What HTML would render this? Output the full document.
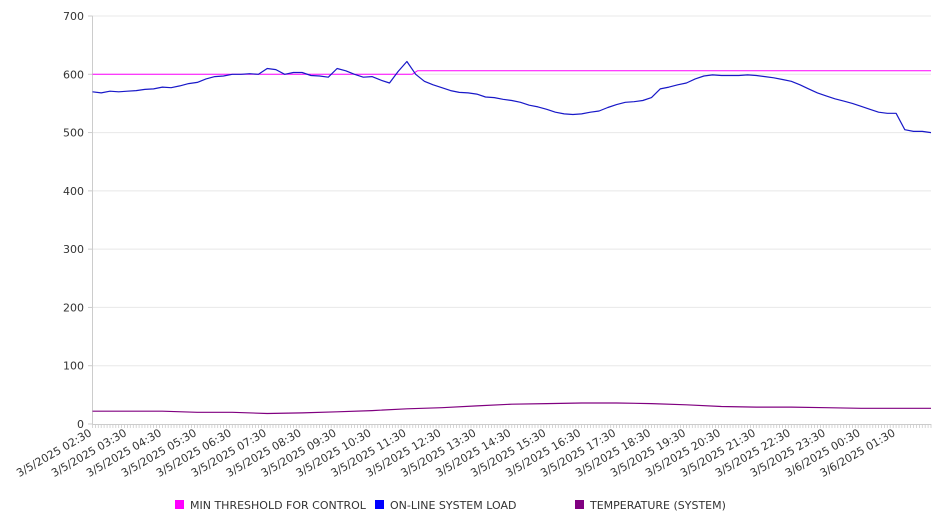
<!DOCTYPE html>
<html><head><meta charset="utf-8">
<style>
body{margin:0;background:#fff;}
svg{display:block;font-family:"DejaVu Sans","Liberation Sans",sans-serif;}
</style></head>
<body>
<svg id="chart" width="946" height="526" viewBox="0 0 946 526" xmlns="http://www.w3.org/2000/svg">
<g id="grid"></g>
<g id="yaxis"></g>
<g id="xaxis"></g>
<g id="series"></g>
<g font-size="11" fill="#333">
  <g><rect x="175" y="500" width="9" height="9" fill="#ff00ff"/><text x="190" y="509">MIN THRESHOLD FOR CONTROL</text></g>
  <g><rect x="375" y="500" width="9" height="9" fill="#0000ff"/><text x="390" y="509">ON-LINE SYSTEM LOAD</text></g>
  <g><rect x="575" y="500" width="9" height="9" fill="#800080"/><text x="590" y="509">TEMPERATURE (SYSTEM)</text></g>
</g>
</svg>
<script>
const xLabels=["3/5/2025 02:30","3/5/2025 03:30","3/5/2025 04:30","3/5/2025 05:30","3/5/2025 06:30","3/5/2025 07:30","3/5/2025 08:30","3/5/2025 09:30","3/5/2025 10:30","3/5/2025 11:30","3/5/2025 12:30","3/5/2025 13:30","3/5/2025 14:30","3/5/2025 15:30","3/5/2025 16:30","3/5/2025 17:30","3/5/2025 18:30","3/5/2025 19:30","3/5/2025 20:30","3/5/2025 21:30","3/5/2025 22:30","3/5/2025 23:30","3/6/2025 00:30","3/6/2025 01:30"];
const yTicks=[0,100,200,300,400,500,600,700];
// load sampled every 15 min (hours from 02:30)
const loadValues=[570,568,571,570,571,572,574,575,578,577,580,584,586,592,596,597,600,600,601,600,610,608,600,603,603,598,597,595,610,606,600,595,596,590,585,605,622,600,588,582,577,572,569,568,566,561,560,557,555,552,547,544,540,535,532,531,532,535,537,543,548,552,553,555,560,575,578,582,585,592,597,599,598,598,598,599,598,596,594,591,588,582,575,568,563,558,554,550,545,540,535,533,533,505,502,502,500];
// temperature hourly
const tempValues=[22,22,22,20,20,18,19,21,23,26,28,31,34,35,36,36,35,33,30,29,29,28,27,27,27];
// threshold: [hour, value]
const thresholdHours=[0,9.15,9.3,24];
const thresholdValues=[600,600,606,606];

const X0=92.5,X1=931,Y0=424,Y1=16,HOURS=24,YMAX=700;
const xs=h=>X0+(X1-X0)*h/HOURS;
const ys=v=>Y0-(Y0-Y1)*v/YMAX;
const NS="http://www.w3.org/2000/svg";
function mk(tag,parent,attrs){const e=document.createElementNS(NS,tag);for(const k in attrs)e.setAttribute(k,attrs[k]);parent.appendChild(e);return e;}
const grid=document.getElementById('grid'),ya=document.getElementById('yaxis'),xa=document.getElementById('xaxis'),ser=document.getElementById('series');
yTicks.forEach(v=>{
  if(v>0){const g=mk('line',grid,{x1:X0,x2:X1,y1:ys(v),y2:ys(v),stroke:'#e8e8e8','stroke-width':1});
  
  }
  const t=mk('text',ya,{x:84,y:ys(v)+4,'text-anchor':'end','font-size':11,fill:'#333'});
  t.textContent=v;
  
  
  const tk=mk('line',ya,{x1:88,x2:X0,y1:ys(v),y2:ys(v),stroke:'#ccc'});
  
  
});
const yl=mk('line',ya,{x1:X0,x2:X0,y1:Y1,y2:Y0,stroke:'#ccc'});


const xl=mk('line',xa,{x1:X0,x2:X1,y1:Y0+0.5,y2:Y0+0.5,stroke:'#ccc'});


let d='';
for(let i=0;i<=288;i++){const x=xs(i/12);d+=`M${x.toFixed(1)} ${Y0}v4`;}
const mt=mk('path',xa,{d:d,stroke:'#ccc','stroke-width':0.8});


xLabels.forEach((l,i)=>{
  const x=xs(i),y=Y0+11;
  const t=mk('text',xa,{x:x,y:y,'text-anchor':'end','font-size':11,fill:'#333',transform:`rotate(-30 ${x} ${y})`});
  t.textContent=l;
  
  
});
function line(hs,vs,color,name,w){
  const pts=hs.map((h,i)=>xs(h).toFixed(1)+','+ys(vs[i]).toFixed(1)).join(' ');
  const p=mk('polyline',ser,{points:pts,fill:'none',stroke:color,'stroke-width':w,'stroke-linejoin':'round'});
  
  
}
line(thresholdHours,thresholdValues,'#ff00ff','threshold-line',1);
line(loadValues.map((v,i)=>i*0.25),loadValues,'#1818c8','load-line',1.2);
line(tempValues.map((v,i)=>i),tempValues,'#800080','temperature-line',1.2);
</script>
</body></html>
